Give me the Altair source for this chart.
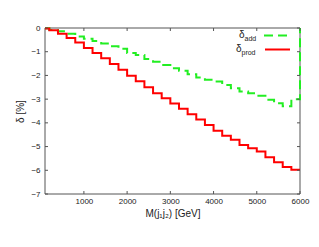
import altair as alt
import pandas as pd

# bin edges of the histogram (GeV); last entry is the right end of the last bin
m_edges = [100, 200, 400, 600, 800, 1000, 1200, 1400, 1600, 1800, 2000, 2200,
           2400, 2600, 2800, 3000, 3200, 3400, 3600, 3800, 4000, 4200, 4400,
           4600, 4800, 5000, 5200, 5400, 5600, 5800, 6000]

delta_add = [-0.01, -0.08, -0.14, -0.24, -0.36, -0.45, -0.55, -0.65, -0.77, -0.88,
             -1.05, -1.14, -1.31, -1.42, -1.56, -1.70, -1.80, -1.95, -2.09, -2.18,
             -2.26, -2.40, -2.54, -2.68, -2.75, -2.86, -3.03, -3.17, -3.30, -3.00]

delta_prod = [-0.02, -0.10, -0.24, -0.42, -0.61, -0.84, -1.05, -1.28, -1.52, -1.76,
              -2.01, -2.25, -2.50, -2.75, -2.96, -3.18, -3.40, -3.64, -3.86, -4.09,
              -4.33, -4.54, -4.71, -4.93, -5.07, -5.21, -5.45, -5.66, -5.86, -5.98]

x_ticks = [1000, 2000, 3000, 4000, 5000, 6000]
y_ticks = [0, -1, -2, -3, -4, -5, -6, -7]

W, H = 255, 166
FONT = "Liberation Sans"
TXT = "#222222"
FRAME = "#555555"

# build step data
rows_add = [{"m": m_edges[i], "d": v, "i": i} for i, v in enumerate(delta_add)]
rows_add.append({"m": m_edges[-1], "d": delta_add[-1], "i": len(delta_add)})
rows_add.append({"m": m_edges[-1], "d": 0.0, "i": len(delta_add) + 1})
rows_prod = [{"m": m_edges[i], "d": v, "i": i} for i, v in enumerate(delta_prod)]
rows_prod.append({"m": m_edges[-1], "d": delta_prod[-1], "i": len(delta_prod)})
df_add = pd.DataFrame(rows_add)
df_prod = pd.DataFrame(rows_prod)

xscale = alt.Scale(domain=[100, 6000], nice=False, zero=False)
yscale = alt.Scale(domain=[-7, 0], nice=False, zero=False)

x_axis = alt.Axis(values=x_ticks, format="d", ticks=False, domain=False, grid=False,
                  labelFontSize=8, labelPadding=3, labelColor=TXT, labelFont=FONT,
                  labelOverlap=False, labelFlush=False, labelBound=False,
                  title="M(j₁j₂) [GeV]", titleFontSize=10, titleFont=FONT,
                  titleFontWeight="normal", titleColor=TXT, titlePadding=3)
y_axis = alt.Axis(values=y_ticks, format="d", ticks=False, domain=False, grid=False,
                  labelFontSize=8, labelPadding=5, labelColor=TXT, labelFont=FONT,
                  labelOverlap=False, labelFlush=False, labelBound=False,
                  title="δ [%]", titleFontSize=10, titleFont=FONT,
                  titleFontWeight="normal", titleColor=TXT, titlePadding=5)

X = lambda: alt.X("m:Q", scale=xscale, axis=x_axis)
Y = lambda: alt.Y("d:Q", scale=yscale, axis=y_axis)

frame_df = pd.DataFrame({"k": [0]})
frame = alt.layer(
    alt.Chart(frame_df).mark_rule(color=FRAME, strokeWidth=1).encode(
        x=alt.value(0), x2=alt.value(W), y=alt.value(0)),
    alt.Chart(frame_df).mark_rule(color=FRAME, strokeWidth=1).encode(
        x=alt.value(0), x2=alt.value(W), y=alt.value(H)),
    alt.Chart(frame_df).mark_rule(color=FRAME, strokeWidth=1).encode(
        y=alt.value(0), y2=alt.value(H), x=alt.value(0)),
    alt.Chart(frame_df).mark_rule(color=FRAME, strokeWidth=1).encode(
        y=alt.value(0), y2=alt.value(H), x=alt.value(W)),
)

xt = pd.DataFrame({"m": x_ticks})
yt = pd.DataFrame({"d": y_ticks})
ticks = alt.layer(
    alt.Chart(xt).mark_rule(color=FRAME, strokeWidth=1).encode(
        x=X(), y=alt.value(H), y2=alt.value(H - 3)),
    alt.Chart(xt).mark_rule(color=FRAME, strokeWidth=1).encode(
        x=X(), y=alt.value(0), y2=alt.value(3)),
    alt.Chart(yt).mark_rule(color=FRAME, strokeWidth=1).encode(
        y=Y(), x=alt.value(0), x2=alt.value(3)),
    alt.Chart(yt).mark_rule(color=FRAME, strokeWidth=1).encode(
        y=Y(), x=alt.value(W), x2=alt.value(W - 3)),
)

line_add = alt.Chart(df_add).mark_line(
    interpolate="step-after", color="#22ee22", strokeWidth=2, strokeDash=[9, 5]
).encode(x=X(), y=Y(), order="i:Q")

line_prod = alt.Chart(df_prod).mark_line(
    interpolate="step-after", color="#ff0000", strokeWidth=2
).encode(x=X(), y=Y(), order="i:Q")

leg_df = pd.DataFrame({"k": [0]})
legend = alt.layer(
    alt.Chart(leg_df).mark_text(text="δ", font=FONT, fontSize=10, color=TXT, align="left",
                                baseline="alphabetic").encode(x=alt.value(194), y=alt.value(9.5)),
    alt.Chart(leg_df).mark_text(text="add", font=FONT, fontSize=7, color=TXT, align="left",
                                baseline="alphabetic").encode(x=alt.value(199.5), y=alt.value(12.8)),
    alt.Chart(leg_df).mark_text(text="δ", font=FONT, fontSize=10, color=TXT, align="left",
                                baseline="alphabetic").encode(x=alt.value(191), y=alt.value(23.5)),
    alt.Chart(leg_df).mark_text(text="prod", font=FONT, fontSize=7, color=TXT, align="left",
                                baseline="alphabetic").encode(x=alt.value(196.5), y=alt.value(26.5)),
    alt.Chart(leg_df).mark_rule(color="#22ee22", strokeWidth=2, strokeDash=[9, 5]).encode(
        x=alt.value(219), x2=alt.value(245), y=alt.value(7.5)),
    alt.Chart(leg_df).mark_rule(color="#ff0000", strokeWidth=2).encode(
        x=alt.value(220), x2=alt.value(245), y=alt.value(21.5)),
)

chart = alt.layer(frame, line_add, line_prod, ticks, legend).properties(
    width=W, height=H,
    autosize=alt.AutoSizeParams(type="none"),
    padding={"left": 37, "top": 20, "right": 11, "bottom": 45},
).configure_view(stroke=None)

chart.save("out.html", embed_options={"renderer": "svg", "actions": False})
